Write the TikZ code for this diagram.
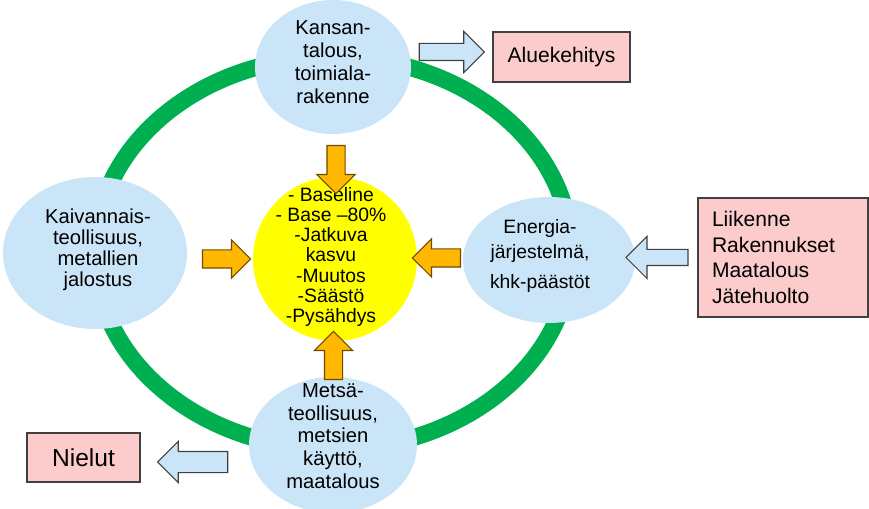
\documentclass[tikz,border=0pt]{standalone}
\usepackage{fontspec}
\setmainfont{Liberation Sans}
\usepackage{tikz}
\usetikzlibrary{shapes.arrows}
\definecolor{ringgreen}{RGB}{0,176,80}
\definecolor{sectorblue}{RGB}{203,229,248}
\definecolor{coreyellow}{RGB}{255,255,0}
\definecolor{boxpink}{RGB}{252,204,204}
\definecolor{feedorange}{RGB}{255,183,0}
\definecolor{feedline}{RGB}{110,75,0}
\definecolor{boxline}{RGB}{64,64,64}
\tikzset{
  sectortext/.style={align=center, inner sep=0pt, font=\fontsize{11.5}{13}\selectfont},
  outbox/.style={draw=boxline, fill=boxpink, line width=0.8pt, inner sep=0pt},
  feedarrow/.style={single arrow, draw=feedline, fill=feedorange, line width=0.6pt,
    inner xsep=0pt, inner ysep=0.17cm, minimum height=0.96cm, single arrow head extend=0.2cm},
  linkarrow/.style={single arrow, draw=boxline, fill=sectorblue, line width=0.6pt,
    inner xsep=0pt, inner ysep=0.16cm, single arrow head extend=0.24cm}
}

\begin{document}
\begin{tikzpicture}
\useasboundingbox (0,0) rectangle (17.38,10.16);
\draw[ringgreen, line width=0.34cm] (6.66,5.1) ellipse (4.76 and 3.92);
    \fill[sectorblue] (6.66,8.82) ellipse (1.56 and 1.34);
    \fill[sectorblue] (1.9,5.1) ellipse (1.84 and 1.52);
    \fill[sectorblue] (10.98,4.96) ellipse (1.72 and 1.26);
    \fill[sectorblue] (6.66,1.26) ellipse (1.68 and 1.36);
    \fill[coreyellow] (6.7,4.98) circle (1.64);
    \node[sectortext] (kansantalous) at (6.66,8.92) {Kansan-\\talous,\\toimiala-\\rakenne};
    \node[sectortext, font=\fontsize{11.5}{12}\selectfont] (kaivannais) at (1.96,5.16) {Kaivannais-\\teollisuus,\\metallien\\jalostus};
    \node[sectortext, font=\fontsize{11}{14}\selectfont] (energia) at (10.8,5.04) {Energia-\\järjestelmä,\\[3pt]khk-päästöt};
    \node[sectortext] (metsa) at (6.66,1.44) {Metsä-\\teollisuus,\\metsien\\käyttö,\\maatalous};
    \node[sectortext, font=\fontsize{11}{11.5}\selectfont] (skenaariot) at (6.62,5.02)
      {- Baseline\\- Base --80\%\\-Jatkuva\\kasvu\\-Muutos\\-Säästö\\-Pysähdys};
    \node[feedarrow, rotate=-90] (fromtop) at (6.72,6.86) {};
    \node[feedarrow] (fromleft) at (4.44,4.98) {};
    \node[feedarrow, rotate=180] (fromright) at (8.82,5.0) {};
    \node[feedarrow, rotate=90] (frombottom) at (6.67,2.96) {};
    \node[outbox, minimum width=2.74cm, minimum height=1cm, font=\fontsize{12}{14}\selectfont] (aluekehitys) at (11.23,9.02) {Aluekehitys};
    \node[outbox, minimum width=3.4cm, minimum height=2.38cm, text width=2.84cm, align=left,
      font=\fontsize{12}{14.5}\selectfont] (sektorit) at (15.66,5.01) {Liikenne\\Rakennukset\\Maatalous\\Jätehuolto};
    \node[outbox, minimum width=2.26cm, minimum height=0.98cm, font=\fontsize{14}{16}\selectfont] (nielut) at (1.67,1.01) {Nielut};
    \node[linkarrow, minimum height=1.3cm] (toalue) at (8.95,9.12) {};
    \node[linkarrow, minimum height=1.24cm, inner ysep=0.15cm, single arrow head extend=0.26cm, rotate=180] (fromsektorit) at (13.22,5.01) {};
    \node[linkarrow, minimum height=1.4cm, inner ysep=0.2cm, single arrow head extend=0.2cm, rotate=180] (tonielut) at (3.96,0.92) {};
\end{tikzpicture}
\end{document}
